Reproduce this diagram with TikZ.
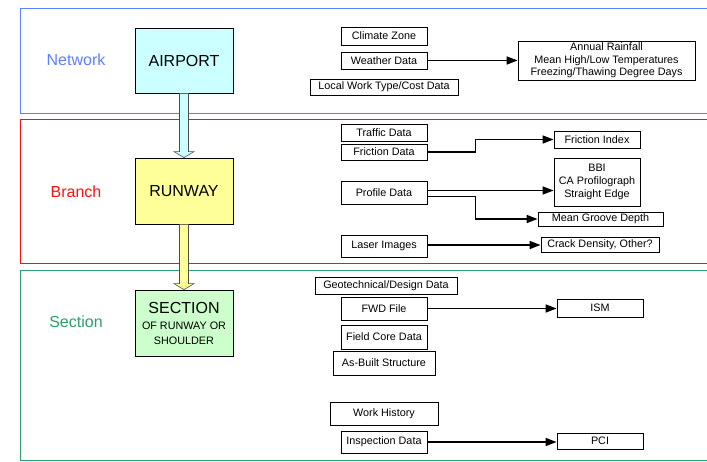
\documentclass[tikz,border=0pt]{standalone}
\usepackage{fontspec}
\setmainfont{Liberation Sans}
\usepackage{xcolor}
\usetikzlibrary{calc,
	positioning,
	arrows.meta}

\definecolor{netblue}{HTML}{5B7FFF}
\definecolor{brred}{HTML}{FF1010}
\definecolor{secgreen}{HTML}{2E9E6A}
\definecolor{airfill}{HTML}{CCFFFF}
\definecolor{runfill}{HTML}{FFFF99}
\definecolor{secfill}{HTML}{CCFFCC}

\begin{document}
\begin{tikzpicture}[x=1pt, y=-1pt,
        databox/.style={draw, line width=0.8pt, fill=white, inner sep=0pt, align=center,
            font=\fontsize{10.8}{12.7}\selectfont},
        mainbox/.style={draw, line width=0.8pt, inner sep=0pt, align=center,
            minimum width=98pt, font=\fontsize{16}{19}\selectfont},
        level/.style={font=\fontsize{16}{19}\selectfont},
        conn/.style={line width=1.6pt, -{Triangle[length=11pt, width=8pt]}},
        blockarrow/.style={draw=black!70, line width=0.6pt}]
            \useasboundingbox (0, 0) rectangle (707, 461);
            \clip (0, 0) rectangle (707, 461);

            % levels
            \draw[netblue, line width=1pt] (20, 8) rectangle (712, 113);
            \draw[brred, line width=1pt] (20, 119) rectangle (712, 263);
            \draw[secgreen, line width=1pt] (20, 270) rectangle (712, 460);
            \node[level, text=netblue] (netlabel) at (76, 60) {Network};
            \node[level, text=brred] (brlabel) at (76, 192) {Branch};
            \node[level, text=secgreen] (seclabel) at (76, 322) {Section};

            % hierarchy
            \node[mainbox, fill=airfill, minimum height=65pt] (airport) at (184, 60.5) {AIRPORT};
            \node[mainbox, fill=runfill, minimum height=66pt] (runway) at (184, 191) {RUNWAY};
            \node[mainbox, fill=secfill, minimum height=66pt] (section) at (184, 323)
                {SECTION\\[-3pt]{\fontsize{10.8}{14}\selectfont OF RUNWAY OR}\\[-4pt]{\fontsize{10.8}{14}\selectfont SHOULDER}};

            \filldraw[blockarrow, fill=airfill] ([xshift=-4.5pt]airport.south) -- ([xshift=-4.5pt, yshift=6pt]runway.north)
                -- ([xshift=-10pt, yshift=6pt]runway.north) -- (runway.north) -- ([xshift=10pt, yshift=6pt]runway.north)
                -- ([xshift=4.5pt, yshift=6pt]runway.north) -- ([xshift=4.5pt]airport.south) -- cycle;
            \filldraw[blockarrow, fill=runfill] ([xshift=-4.5pt]runway.south) -- ([xshift=-4.5pt, yshift=6pt]section.north)
                -- ([xshift=-10pt, yshift=6pt]section.north) -- (section.north) -- ([xshift=10pt, yshift=6pt]section.north)
                -- ([xshift=4.5pt, yshift=6pt]section.north) -- ([xshift=4.5pt]runway.south) -- cycle;

            % network data
            \node[databox, minimum width=86pt, minimum height=18pt] (climate) at (384, 36) {Climate Zone};
            \node[databox, minimum width=86pt, minimum height=17pt] (weather) at (384, 60.5) {Weather Data};
            \node[databox, minimum width=148pt, minimum height=16pt] (localwork) at (384, 87) {Local Work Type/Cost Data};
            \node[databox, minimum width=177pt, minimum height=39pt] (climout) at (606.5, 60.5)
                {Annual Rainfall\\Mean High/Low Temperatures\\Freezing/Thawing Degree Days};
            \draw[conn] (weather.east) -- (climout.west);

            % branch data
            \node[databox, minimum width=86pt, minimum height=17pt] (traffic) at (384, 132.5) {Traffic Data};
            \node[databox, minimum width=86pt, minimum height=16pt] (friction) at (384, 152) {Friction Data};
            \node[databox, minimum width=86pt, minimum height=17pt] (frindex) at (597, 139.5) {Friction Index};
            \node[databox, minimum width=86pt, minimum height=23pt] (profile) at (384, 192.5) {Profile Data};
            \node[databox, minimum width=86pt, minimum height=48pt] (bbi) at (597, 182) {BBI\\CA Profilograph\\Straight Edge};
            \node[databox, minimum width=125pt, minimum height=14pt] (groove) at (600.5, 219) {Mean Groove Depth};
            \node[databox, minimum width=86pt, minimum height=22pt] (laser) at (384, 246) {Laser Images};
            \node[databox, minimum width=118pt, minimum height=15pt] (crack) at (600, 244.5) {Crack Density, Other?};
            \draw[conn] (friction.east) -- ++(48, 0) |- (frindex.west);
            \draw[conn] ([yshift=2pt]profile.east) coordinate (prof1) -- (prof1 -| bbi.west);
            \draw[conn] ([yshift=-4pt]profile.east) -- ++(48, 0) |- (groove.west);
            \draw[conn] ([yshift=1pt]laser.east) coordinate (las1) -- (las1 -| crack.west);

            % section data
            \node[databox, minimum width=142pt, minimum height=17pt] (geotech) at (386, 285.5) {Geotechnical/Design Data};
            \node[databox, minimum width=86pt, minimum height=23pt] (fwd) at (384, 308.5) {FWD File};
            \node[databox, minimum width=86pt, minimum height=18pt] (ism) at (600, 308) {ISM};
            \node[databox, minimum width=86pt, minimum height=24pt] (fieldcore) at (384, 337) {Field Core Data};
            \node[databox, minimum width=102pt, minimum height=24pt] (asbuilt) at (384, 363) {As-Built Structure};
            \node[databox, minimum width=108pt, minimum height=23pt] (workhist) at (384, 413.5) {Work History};
            \node[databox, minimum width=86pt, minimum height=22pt] (inspection) at (384, 442) {Inspection Data};
            \node[databox, minimum width=86pt, minimum height=16pt] (pci) at (600, 441) {PCI};
            \draw[conn] (fwd.east) -- (fwd.east -| ism.west);
            \draw[conn] (inspection.east) -- (inspection.east -| pci.west);
        \end{tikzpicture}
\end{document}
